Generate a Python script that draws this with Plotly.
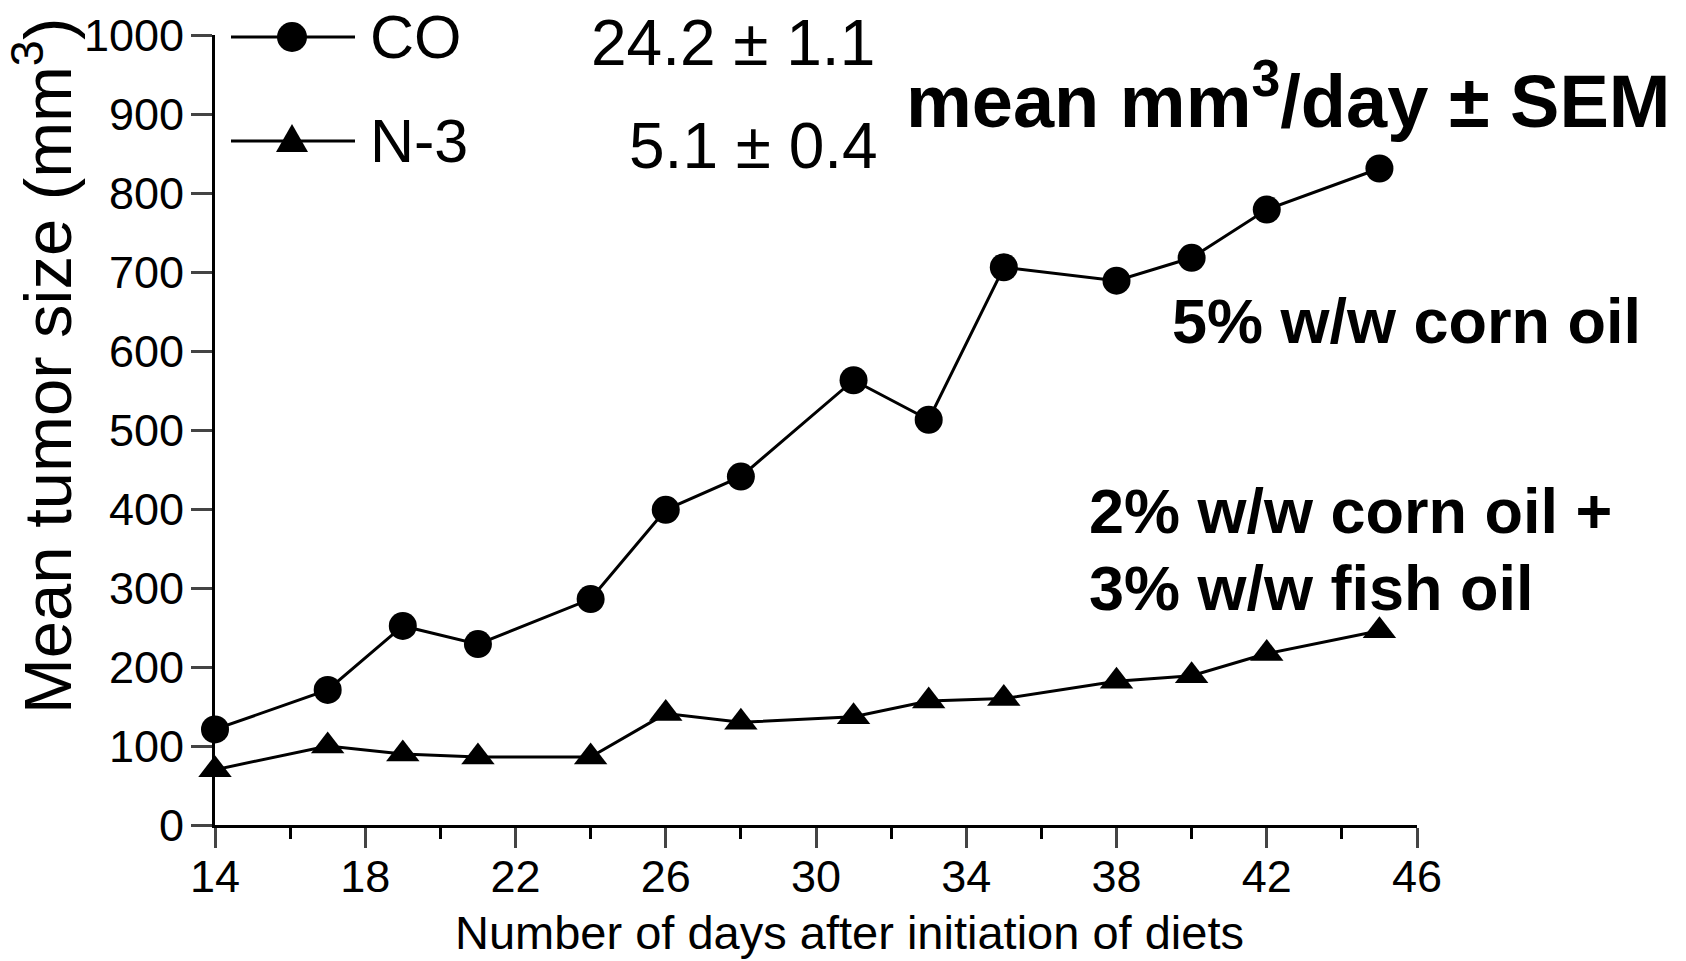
import plotly.graph_objects as go

# ---- data ----
days_co = [14, 17, 19, 21, 24, 26, 28, 31, 33, 35, 38, 40, 42, 45]
co_size = [121, 171, 252, 229, 286, 399, 441, 563, 513, 706, 689, 718, 779, 831]
days_n3 = [14, 17, 19, 21, 24, 26, 28, 31, 33, 35, 38, 40, 42, 45]
n3_size = [70, 100, 90, 86, 86, 141, 130, 137, 157, 160, 182, 189, 217, 246]
x_ticks = [14, 18, 22, 26, 30, 34, 38, 42, 46]
y_ticks = [0, 100, 200, 300, 400, 500, 600, 700, 800, 900, 1000]

W, H = 1686, 961
L, R, T, B = 215, 1417, 35, 825
FONT = "Liberation Sans, Arial, sans-serif"

def px(xp):
    return (xp - L) / (R - L)

def py(yp):
    return (B - yp) / (B - T)

fig = go.Figure()
fig.add_trace(go.Scatter(
    x=days_co, y=co_size, mode="lines+markers", name="CO",
    line=dict(color="black", width=3),
    marker=dict(symbol="circle", size=28, color="black"),
    cliponaxis=False, showlegend=False))
fig.add_trace(go.Scatter(
    x=days_n3, y=n3_size, mode="lines+markers", name="N-3",
    line=dict(color="black", width=3),
    marker=dict(symbol="triangle-up", size=29, color="black"),
    cliponaxis=False, showlegend=False))

shapes = []
annotations = []
# manual legend
for yp, sym, label in [(37, "circle", "CO"), (141, "triangle", "N-3")]:
    shapes.append(dict(type="line", xref="paper", yref="paper",
                       x0=px(231), x1=px(355), y0=py(yp), y1=py(yp),
                       line=dict(color="black", width=3)))
    if sym == "circle":
        shapes.append(dict(type="circle", xref="paper", yref="paper",
                           x0=px(292 - 15), x1=px(292 + 15), y0=py(yp + 15), y1=py(yp - 15),
                           fillcolor="black", line=dict(color="black", width=0)))
    else:
        a, b, c = (px(276), py(yp + 11)), (px(308), py(yp + 11)), (px(292), py(yp - 17))
        shapes.append(dict(type="path", xref="paper", yref="paper",
                           path=f"M {a[0]} {a[1]} L {b[0]} {b[1]} L {c[0]} {c[1]} Z",
                           fillcolor="black", line=dict(color="black", width=0)))
    annotations.append(dict(text=label, xref="paper", yref="paper", x=px(368), y=py(yp),
                            xanchor="left", yanchor="middle", showarrow=False,
                            font=dict(family=FONT, size=61, color="black")))

for txt, xc, yc in [("24.2 ± 1.1", 733, 43), ("5.1 ± 0.4", 753, 146)]:
    annotations.append(dict(text=txt, xref="paper", yref="paper", x=px(xc), y=py(yc),
                            xanchor="center", yanchor="middle", showarrow=False,
                            font=dict(family=FONT, size=64, color="black")))

bold = [
    ("<b>mean mm<sup>3</sup>/day ± SEM</b>", 904, 96, 74),
    ("<b>5% w/w corn oil</b>", 1170, 321, 63),
    ("<b>2% w/w corn oil +</b>", 1087, 511, 63),
    ("<b>3% w/w fish oil</b>", 1087, 588, 63),
]
for txt, xl, yc, fs in bold:
    annotations.append(dict(text=txt, xref="paper", yref="paper", x=px(xl), y=py(yc),
                            xanchor="left", yanchor="middle", showarrow=False,
                            font=dict(family=FONT, size=fs, color="black")))

# axis titles as annotations (positioned like the reference)
annotations.append(dict(text="Mean tumor size (mm<sup>3</sup>)", xref="paper", yref="paper",
                        x=px(43), y=py(366), xanchor="center", yanchor="middle",
                        textangle=-90, showarrow=False,
                        font=dict(family=FONT, size=67, color="black")))
annotations.append(dict(text="Number of days after initiation of diets", xref="paper", yref="paper",
                        x=px(849), y=py(932), xanchor="center", yanchor="middle",
                        showarrow=False, font=dict(family=FONT, size=47, color="black")))

fig.update_layout(
    width=W, height=H,
    margin=dict(l=L, r=W - R, t=T, b=H - B, pad=0, autoexpand=False),
    paper_bgcolor="white", plot_bgcolor="white",
    font=dict(family=FONT, color="black"),
    shapes=shapes, annotations=annotations,
    xaxis=dict(range=[14, 46], tickvals=x_ticks, ticks="outside", ticklen=20, tickwidth=2.5,
               showline=True, linecolor="black", linewidth=3, showgrid=False, zeroline=False,
               automargin=False, tickfont=dict(size=45), ticklabelstandoff=-10,
               minor=dict(dtick=2, tick0=14, ticks="outside", ticklen=11, tickwidth=2.5,
                          tickcolor="black", showgrid=False)),
    yaxis=dict(range=[0, 1000], tickvals=y_ticks, ticks="outside", ticklen=21, tickwidth=2.5,
               showline=True, linecolor="black", linewidth=3, showgrid=False, zeroline=False,
               automargin=False, tickfont=dict(size=45), ticklabelstandoff=-2),
)

fig.write_html("out.html")
